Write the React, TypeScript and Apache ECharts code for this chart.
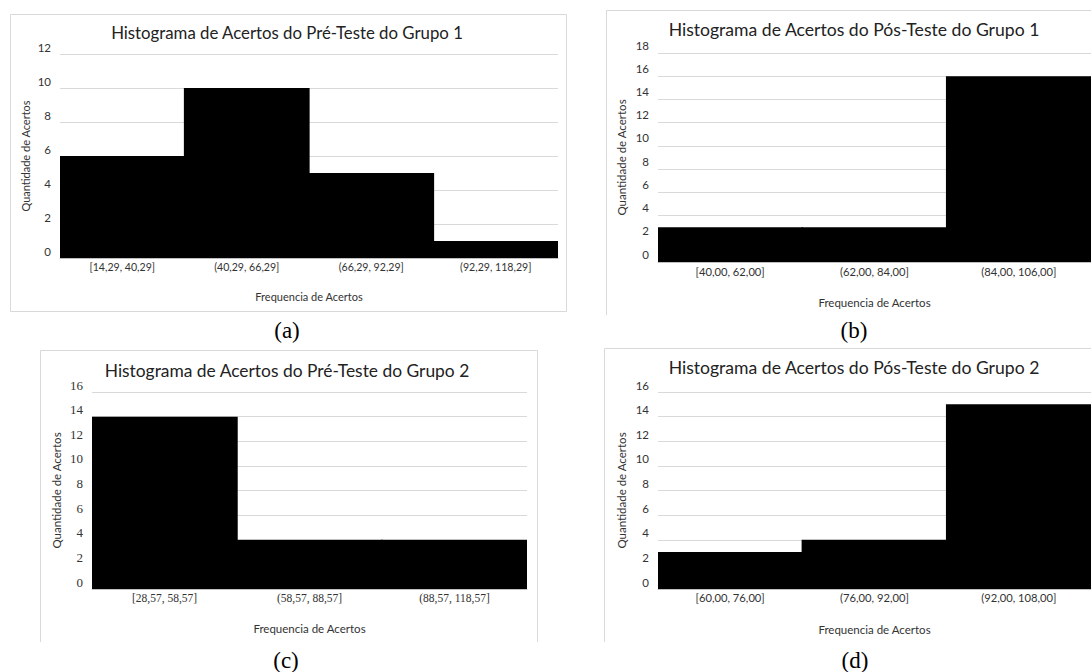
import React, { useEffect, useRef } from "react";
import * as echarts from "echarts";

// ---- data ----
const titleA = "Histograma de Acertos do Pré-Teste do Grupo 1";
const titleB = "Histograma de Acertos do Pós-Teste do Grupo 1";
const titleC = "Histograma de Acertos do Pré-Teste do Grupo 2";
const titleD = "Histograma de Acertos do Pós-Teste do Grupo 2";
const xAxisTitle = "Frequencia de Acertos";
const yAxisTitle = "Quantidade de Acertos";

const catsA = ["[14,29, 40,29]", "(40,29, 66,29]", "(66,29, 92,29]", "(92,29, 118,29]"];
const valsA = [6, 10, 5, 1];
const catsB = ["[40,00, 62,00]", "(62,00, 84,00]", "(84,00, 106,00]"];
const valsB = [3, 3, 16];
const catsC = ["[28,57, 58,57]", "(58,57, 88,57]", "(88,57, 118,57]"];
const valsC = [14, 4, 4];
const catsD = ["[60,00, 76,00]", "(76,00, 92,00]", "(92,00, 108,00]"];
const valsD = [3, 4, 15];

const yMaxA = 12;
const yMaxB = 18;
const yMaxC = 16;
const yMaxD = 16;
const yStep = 2;

const captions = ["(a)", "(b)", "(c)", "(d)"];

const SANS = "Lato, 'Open Sans', sans-serif";
const SERIF = "'Liberation Serif', 'Times New Roman', serif";
const GRID = "#d9d9d9";
const LABEL = "#333333";
const TITLE = "#222222";

export default function App() {
  const ref = useRef<HTMLDivElement>(null);

  useEffect(() => {
    if (!ref.current) return;
    const chart = echarts.init(ref.current, undefined, { renderer: "svg" });

    const panels = [
      { cats: catsA, vals: valsA, max: yMaxA, grid: { left: 60, top: 54, width: 498, height: 204 }, font: SANS, yFont: SANS, lblSize: 10.6, yLblSize: 11.5, xMargin: 3, yLh: 14, nameSize: 11, xGap: 33, yGap: 29 },
      { cats: catsB, vals: valsB, max: yMaxB, grid: { left: 658, top: 53, width: 438, height: 209 }, font: SANS, yFont: SANS, lblSize: 11.2, yLblSize: 11.5, xMargin: 4, yLh: 16, nameSize: 11.5, xGap: 34, yGap: 31 },
      { cats: catsC, vals: valsC, max: yMaxC, grid: { left: 92, top: 392, width: 435, height: 197 }, font: SERIF, yFont: SERIF, lblSize: 11.5, yLblSize: 13, xMargin: 3, yLh: 14, nameSize: 11.5, xGap: 33.5, yGap: 30 },
      { cats: catsD, vals: valsD, max: yMaxD, grid: { left: 658, top: 392, width: 438, height: 197 }, font: SANS, yFont: SANS, lblSize: 11.2, yLblSize: 11.5, xMargin: 3, yLh: 14, nameSize: 11.5, xGap: 34.5, yGap: 31 },
    ];

    const titles = [
      { text: titleA, x: 287, y: 32, size: 16.8 },
      { text: titleB, x: 854, y: 30, size: 17.6 },
      { text: titleC, x: 287, y: 370, size: 17.4 },
      { text: titleD, x: 854, y: 368, size: 17.6 },
    ];

    const capPos = [
      [287, 330],
      [854, 330],
      [286, 660],
      [855, 660],
    ];

    const option: any = {
      animation: false,
      backgroundColor: "#ffffff",
      title: titles.map((t) => ({
        text: t.text,
        left: t.x,
        top: t.y - t.size * 0.6,
        textAlign: "center",
        padding: 0,
        textStyle: {
          fontFamily: SANS,
          fontSize: t.size,
          fontWeight: "normal",
          color: TITLE,
          lineHeight: t.size * 1.2,
        },
      })),
      grid: panels.map((p) => ({ ...p.grid, containLabel: false })),
      xAxis: panels.map((p, i) => ({
        type: "category",
        gridIndex: i,
        data: p.cats,
        boundaryGap: true,
        axisTick: { show: false },
        axisLine: { show: true, lineStyle: { color: "#bfbfbf", width: 1 } },
        axisLabel: {
          interval: 0,
          margin: p.xMargin,
          fontFamily: p.font,
          fontSize: p.lblSize,
          color: LABEL,
        },
        splitLine: { show: false },
        name: xAxisTitle,
        nameLocation: "middle",
        nameGap: p.xGap,
        nameTextStyle: { fontFamily: SANS, fontSize: p.nameSize, color: LABEL },
        z: 5,
      })),
      yAxis: panels.map((p, i) => ({
        type: "value",
        gridIndex: i,
        min: 0,
        max: p.max,
        interval: yStep,
        axisLine: { show: false },
        axisTick: { show: false },
        axisLabel: {
          margin: 9,
          fontFamily: p.yFont,
          fontSize: p.yLblSize,
          color: LABEL,
          verticalAlign: "bottom",
          lineHeight: p.yLh,
        },
        splitLine: { show: true, lineStyle: { color: GRID, width: 1 } },
        name: yAxisTitle,
        nameLocation: "middle",
        nameRotate: 90,
        nameGap: p.yGap,
        nameTextStyle: { fontFamily: SANS, fontSize: p.nameSize, color: LABEL },
      })),
      series: panels.map((p, i) => ({
        type: "bar",
        xAxisIndex: i,
        yAxisIndex: i,
        data: p.vals,
        barWidth: "101%",
        itemStyle: { color: "#000000" },
        z: 2,
      })),
      graphic: [
        // panel borders
        {
          type: "polyline",
          shape: { points: [[10.5, 14.5], [566.5, 14.5], [566.5, 311.5], [10.5, 311.5], [10.5, 14.5]] },
          style: { stroke: GRID, fill: null, lineWidth: 1 },
          silent: true,
        },
        {
          type: "polyline",
          shape: { points: [[606.5, 315], [606.5, 10.5], [1095, 10.5]] },
          style: { stroke: GRID, fill: null, lineWidth: 1 },
          silent: true,
        },
        {
          type: "polyline",
          shape: { points: [[40.5, 642], [40.5, 350.5], [537.5, 350.5], [537.5, 642]] },
          style: { stroke: GRID, fill: null, lineWidth: 1 },
          silent: true,
        },
        {
          type: "polyline",
          shape: { points: [[604.5, 642], [604.5, 348.5], [1095, 348.5]] },
          style: { stroke: GRID, fill: null, lineWidth: 1 },
          silent: true,
        },
        ...captions.map((c, i) => ({
          type: "text",
          x: capPos[i][0],
          y: capPos[i][1],
          style: {
            text: c,
            fontFamily: SERIF,
            fontSize: 23,
            fill: "#000000",
            textAlign: "center",
            textVerticalAlign: "middle",
          },
          silent: true,
        })),
      ],
    };

    chart.setOption(option);
    return () => chart.dispose();
  }, []);

  return (
    <div
      ref={ref}
      style={{ position: "absolute", left: 0, top: 0, width: 1091, height: 672, background: "#fff" }}
    />
  );
}
